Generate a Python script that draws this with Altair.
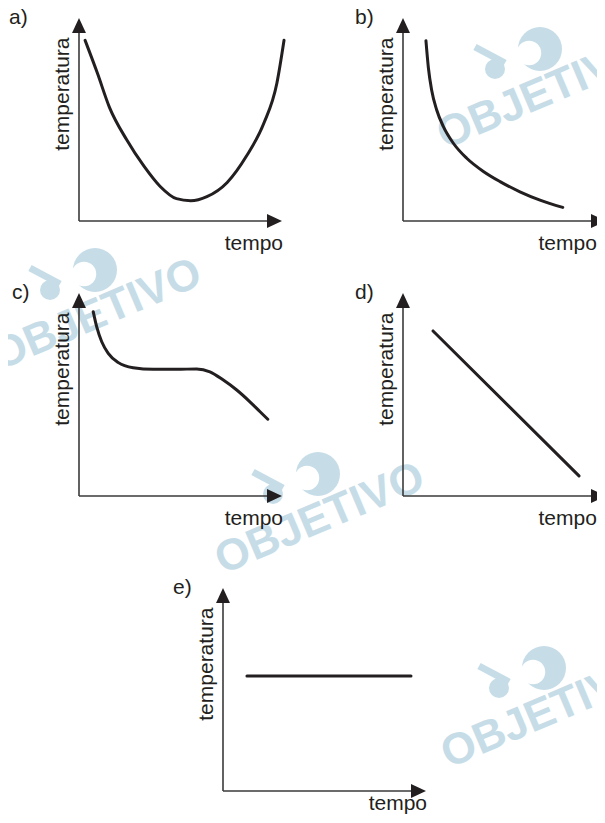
import altair as alt
import pandas as pd

# ---------------- data (units: 0..10 along each axis) -------------
tempo_a = [0.3, 0.9, 1.5, 2.35, 3.2, 4.0, 4.8, 5.5, 6.3, 7.3, 8.25, 9.1, 9.75, 10.1]
temp_a = [8.9, 7.3, 5.6, 4.0, 2.7, 1.7, 1.1, 1.0, 1.2, 1.9, 3.2, 4.8, 6.8, 8.9]

tempo_b = [1.13, 1.25, 1.41, 1.66, 1.99, 2.48, 3.14, 3.96, 4.78, 5.76, 6.75, 7.87]
temp_b = [8.88, 7.55, 6.45, 5.47, 4.65, 3.83, 3.09, 2.44, 1.94, 1.44, 1.03, 0.67]

tempo_c = [0.70, 0.87, 1.12, 1.44, 1.94, 2.67, 3.66, 4.81, 5.80, 6.45, 7.11, 7.77, 8.42, 8.92, 9.30]
temp_c = [9.08, 8.34, 7.60, 7.03, 6.57, 6.32, 6.24, 6.24, 6.26, 6.12, 5.71, 5.22, 4.64, 4.15, 3.78]

tempo_d = [1.48, 8.67]
temp_d = [8.13, 0.99]

tempo_e = [1.18, 9.26]
temp_e = [5.67, 5.67]

panel_labels = ["a)", "b)", "c)", "d)", "e)"]
x_title = "tempo"
y_title = "temperatura"
watermark_text = "OBJETIVO"

# ---------------- layout / style -------------------------------------------------------
PAGE_MARGIN = 8
SIDE = 203                     # axis length in px
# (left, bottom) of each panel's axes, page pixels
ORIGINS = [(79, 221), (403, 221), (79, 496), (403, 496), (223, 791)]
LABEL_DX = [-70, -48, -67, -48, -50]
# where the "tempo" title sits (its right edge along x, its centre along y), axis units
XT_POS = [(10.05, -1.15), (9.55, -1.15), (10.05, -1.15), (9.55, -1.15), (10.05, -0.62)]
INK = "#231f20"
AXIS_INK = "#3a3a3a"
WM = "#c6dde8"
FONT = "Liberation Sans"
FS = 21

UP = "M0,0L-0.93,2L0.93,2Z"
RIGHT = "M0,0L-2,-0.93L-2,0.93Z"

ONE = pd.DataFrame({"k": [0]})


def panel(label, dx_label, xs, ys, left, bottom, xt):
    l = left - PAGE_MARGIN
    b = bottom - PAGE_MARGIN
    xs_ = alt.Scale(domain=[0, 10], range=[l, l + SIDE], nice=False, zero=False)
    ys_ = alt.Scale(domain=[0, 10], range=[b, b - SIDE], nice=False, zero=False)

    def X(v):
        return alt.XDatum(v, type="quantitative", scale=xs_, axis=None)

    def Y(v):
        return alt.YDatum(v, type="quantitative", scale=ys_, axis=None)

    base = alt.Chart(ONE)
    x_axis = base.mark_rule(color=AXIS_INK, strokeWidth=1.6).encode(
        x=X(0), x2=alt.X2Datum(9.6), y=Y(0))
    y_axis = base.mark_rule(color=AXIS_INK, strokeWidth=1.6).encode(
        x=X(0), y=Y(0), y2=alt.Y2Datum(9.6))
    x_head = base.mark_point(shape=RIGHT, size=225, filled=True, color=INK,
                             opacity=1, strokeWidth=0).encode(x=X(10), y=Y(0))
    y_head = base.mark_point(shape=UP, size=225, filled=True, color=INK,
                             opacity=1, strokeWidth=0).encode(x=X(0), y=Y(10))
    df = pd.DataFrame({"tempo": xs, "temperatura": ys})
    curve = alt.Chart(df).mark_line(color=INK, strokeWidth=3, interpolate="monotone",
                                    strokeCap="round").encode(
        x=alt.X("tempo:Q", scale=xs_, axis=None),
        y=alt.Y("temperatura:Q", scale=ys_, axis=None),
        order=alt.Order("tempo:Q"),
    )
    lab = base.mark_text(text=label, align="left", baseline="middle", dx=dx_label,
                         font=FONT, fontSize=FS, color=INK).encode(x=X(0), y=Y(10))
    ytit = base.mark_text(text=y_title, angle=270, align="center", baseline="middle",
                          font=FONT, fontSize=FS, color=INK).encode(x=X(-0.8), y=Y(6.25))
    xtit = base.mark_text(text=x_title, align="right", baseline="middle",
                          font=FONT, fontSize=FS, color=INK).encode(x=X(xt[0]), y=Y(xt[1]))
    return alt.layer(x_axis, y_axis, x_head, y_head, curve, lab, ytit, xtit)


# ---------------- watermark (decoration) ---------------------------------------------
WM_CENTERS = [(542, 94), (97, 315), (320, 519), (546, 713)]
wm = pd.DataFrame({"px": [c[0] - PAGE_MARGIN for c in WM_CENTERS],
                   "py": [c[1] - PAGE_MARGIN for c in WM_CENTERS]})
wm["bx"], wm["by"] = wm.px - 2, wm.py - 45
wm["wx"], wm["wy"] = wm.px - 13, wm.py - 41
wm["sx"], wm["sy"] = wm.px - 47, wm.py - 25
wm["s1x"], wm["s1y"] = wm.px - 67, wm.py - 47
wm["s2x"], wm["s2y"] = wm.px - 37, wm.py - 31

wbase = alt.Chart(wm)
wm_text = wbase.mark_text(text=watermark_text, angle=337, align="center", baseline="middle",
                          font=FONT, fontWeight="bold", fontSize=44, color=WM).encode(
    x=alt.X("px:Q", scale=None), y=alt.Y("py:Q", scale=None))
wm_big = wbase.mark_point(shape="circle", size=1936, filled=True, color=WM, opacity=1,
                          strokeWidth=0).encode(
    x=alt.X("bx:Q", scale=None), y=alt.Y("by:Q", scale=None))
wm_white = wbase.mark_point(shape="circle", size=600, filled=True, color="white", opacity=1,
                            strokeWidth=0).encode(
    x=alt.X("wx:Q", scale=None), y=alt.Y("wy:Q", scale=None))
wm_small = wbase.mark_point(shape="circle", size=400, filled=True, color=WM, opacity=1,
                            strokeWidth=0).encode(
    x=alt.X("sx:Q", scale=None), y=alt.Y("sy:Q", scale=None))
wm_stripe = wbase.mark_rule(color=WM, strokeWidth=7).encode(
    x=alt.X("s1x:Q", scale=None), y=alt.Y("s1y:Q", scale=None),
    x2="s2x:Q", y2="s2y:Q")

series = [(tempo_a, temp_a), (tempo_b, temp_b), (tempo_c, temp_c),
          (tempo_d, temp_d), (tempo_e, temp_e)]
panels = [panel(panel_labels[i], LABEL_DX[i], series[i][0], series[i][1], *ORIGINS[i],
                XT_POS[i])
          for i in range(5)]

chart = alt.layer(wm_big, wm_white, wm_small, wm_stripe, wm_text, *panels).resolve_scale(
    x="independent", y="independent"
).properties(
    width=589, height=807, padding=0,
    autosize=alt.AutoSizeParams(type="none"),
    background="white",
).configure_view(stroke=None)

chart.save("out.html", embed_options={"renderer": "svg", "actions": False})
